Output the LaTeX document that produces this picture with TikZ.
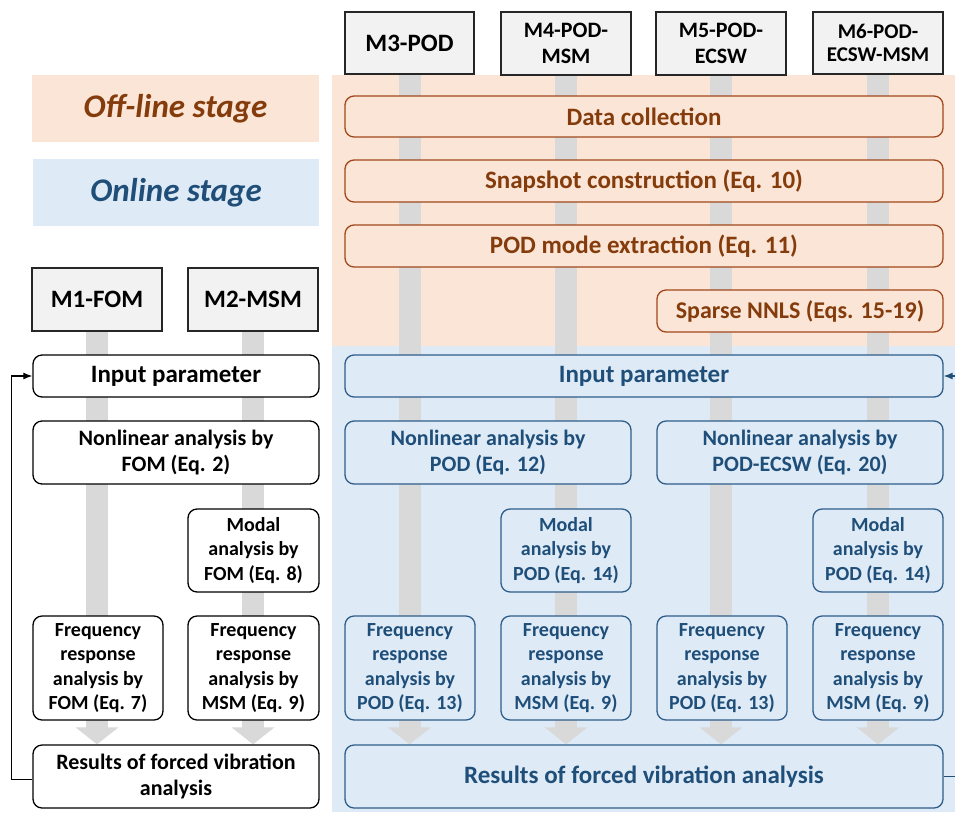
\documentclass[tikz,border=0pt]{standalone}
\usepackage{fontspec}
\setmainfont{Carlito}
\usepackage{tikz}
\usetikzlibrary{arrows.meta}
\tikzset{>=latex}
\definecolor{peach}{HTML}{FBE5D6}
\definecolor{paleblue}{HTML}{DEEBF7}
\definecolor{rust}{HTML}{843C0C}
\definecolor{rustline}{HTML}{A0471C}
\definecolor{navy}{HTML}{1F4E79}
\definecolor{navyline}{HTML}{2E5D8A}
\definecolor{bargray}{HTML}{D9D9D9}
\pgfdeclarelayer{back}
\pgfdeclarelayer{bars}
\pgfsetlayers{back,bars,main}

\begin{document}
\begin{tikzpicture}[x=1pt,y=-1pt,
  method box/.style={draw=black!85,fill=black!5,line width=1.5pt,inner sep=0pt,align=center,font=\bfseries\fontsize{25}{30}\selectfont},
  flow box/.style={rounded corners=9pt,line width=1.3pt,inner sep=0pt,align=center,font=\bfseries\fontsize{22}{26}\selectfont},
  left box/.style={flow box,draw=black,fill=white},
  off box/.style={flow box,draw=rustline,fill=peach,text=rust,font=\bfseries\fontsize{25}{30}\selectfont},
  on box/.style={flow box,draw=navyline,fill=paleblue,text=navy},
  small text/.style={font=\bfseries\fontsize{20}{24.5}\selectfont},
  big text/.style={font=\bfseries\fontsize{25}{30}\selectfont},
  stage text/.style={minimum height=67,font=\bfseries\itshape\fontsize{33}{38}\selectfont},
  loop line/.style={-{Latex[length=9pt,width=7pt]},line width=1.2pt},
  bar/.style={line width=22pt,draw=bargray,-{Triangle[width=42pt,length=17pt]}}]
\clip (0,0) rectangle (955,812);

% stage backgrounds
\begin{pgfonlayer}{back}
\fill[peach] (332,75) rectangle (955,346);
\fill[paleblue] (332,346) rectangle (955,812);
\end{pgfonlayer}
\node[stage text,fill=peach,minimum width=287,text=rust] (offline) at (175.5,108.5) {Off-line stage};
\node[stage text,fill=paleblue,minimum width=286,text=navy] (online) at (176,192.5) {Online stage};

% methods
\node[method box,minimum width=130,minimum height=63] (m1) at (97,299.5) {M1-FOM};
\node[method box,minimum width=130,minimum height=63] (m2) at (253,299.5) {M2-MSM};
\node[method box,minimum width=129,minimum height=62] (m3) at (409.5,43) {M3-POD};
\node[method box,minimum width=130,minimum height=63,font=\bfseries\fontsize{22}{26}\selectfont] (m4) at (566,43.5) {M4-POD-\\MSM};
\node[method box,minimum width=130,minimum height=63,font=\bfseries\fontsize{22}{26}\selectfont] (m5) at (721,43.5) {M5-POD-\\ECSW};
\node[method box,minimum width=130,minimum height=62,font=\bfseries\fontsize{21}{23}\selectfont] (m6) at (878,43) {M6-POD-\\ECSW-MSM};

% off-line stage
\node[off box,minimum width=598,minimum height=41] (data) at (644,116.5) {Data collection};
\node[off box,minimum width=598,minimum height=42] (snap) at (644,181) {Snapshot construction (Eq. 10)};
\node[off box,minimum width=598,minimum height=42] (modes) at (644,246) {POD mode extraction (Eq. 11)};
\node[off box,minimum width=286,minimum height=42,font=\bfseries\fontsize{24}{28}\selectfont] (nnls) at (800,311) {Sparse NNLS (Eqs. 15-19)};

% full order side
\node[left box,minimum width=286,minimum height=42,big text] (inL) at (176,376) {Input parameter};
\node[left box,minimum width=286,minimum height=63] (nlFOM) at (176,452.5) {Nonlinear analysis by\\FOM (Eq. 2)};
\node[left box,minimum width=131,minimum height=83,small text] (modFOM) at (253.5,550.5) {Modal\\analysis by\\FOM (Eq. 8)};
\node[left box,minimum width=130,minimum height=104,small text] (frFOM) at (98,668) {Frequency\\response\\analysis by\\FOM (Eq. 7)};
\node[left box,minimum width=131,minimum height=104,small text] (frMSM) at (253.5,668) {Frequency\\response\\analysis by\\MSM (Eq. 9)};
\node[left box,minimum width=286,minimum height=63] (resL) at (176,776.5) {Results of forced vibration\\analysis};

% online stage
\node[on box,minimum width=598,minimum height=42,big text] (inR) at (644,376) {Input parameter};
\node[on box,minimum width=286,minimum height=63] (nlPOD) at (488,452.5) {Nonlinear analysis by\\POD (Eq. 12)};
\node[on box,minimum width=286,minimum height=63] (nlECSW) at (800,452.5) {Nonlinear analysis by\\POD-ECSW (Eq. 20)};
\node[on box,minimum width=130,minimum height=83,small text] (modA) at (566,550.5) {Modal\\analysis by\\POD (Eq. 14)};
\node[on box,minimum width=130,minimum height=83,small text] (modB) at (878,550.5) {Modal\\analysis by\\POD (Eq. 14)};
\node[on box,minimum width=130,minimum height=104,small text] (frA) at (410,668) {Frequency\\response\\analysis by\\POD (Eq. 13)};
\node[on box,minimum width=130,minimum height=104,small text] (frB) at (566,668) {Frequency\\response\\analysis by\\MSM (Eq. 9)};
\node[on box,minimum width=130,minimum height=104,small text] (frC) at (722,668) {Frequency\\response\\analysis by\\POD (Eq. 13)};
\node[on box,minimum width=130,minimum height=104,small text] (frD) at (878,668) {Frequency\\response\\analysis by\\MSM (Eq. 9)};
\node[on box,minimum width=598,minimum height=63,big text] (resR) at (644,776.5) {Results of forced vibration analysis};

% gray flow bars
\begin{pgfonlayer}{bars}
\foreach \m/\r in {m1/resL,m2/resL,m3/resR,m4/resR,m5/resR,m6/resR}
  \draw[bar] (\m.south) -- (\m.south |- \r.north);
\end{pgfonlayer}

% loops back to input
\draw[loop line] ([yshift=-3]resL.west) -- ++(-21,0) |- (inL.west);
\draw[loop line,navy] (resR.east) -- ++(22,0) |- (inR.east);
\end{tikzpicture}
\end{document}
